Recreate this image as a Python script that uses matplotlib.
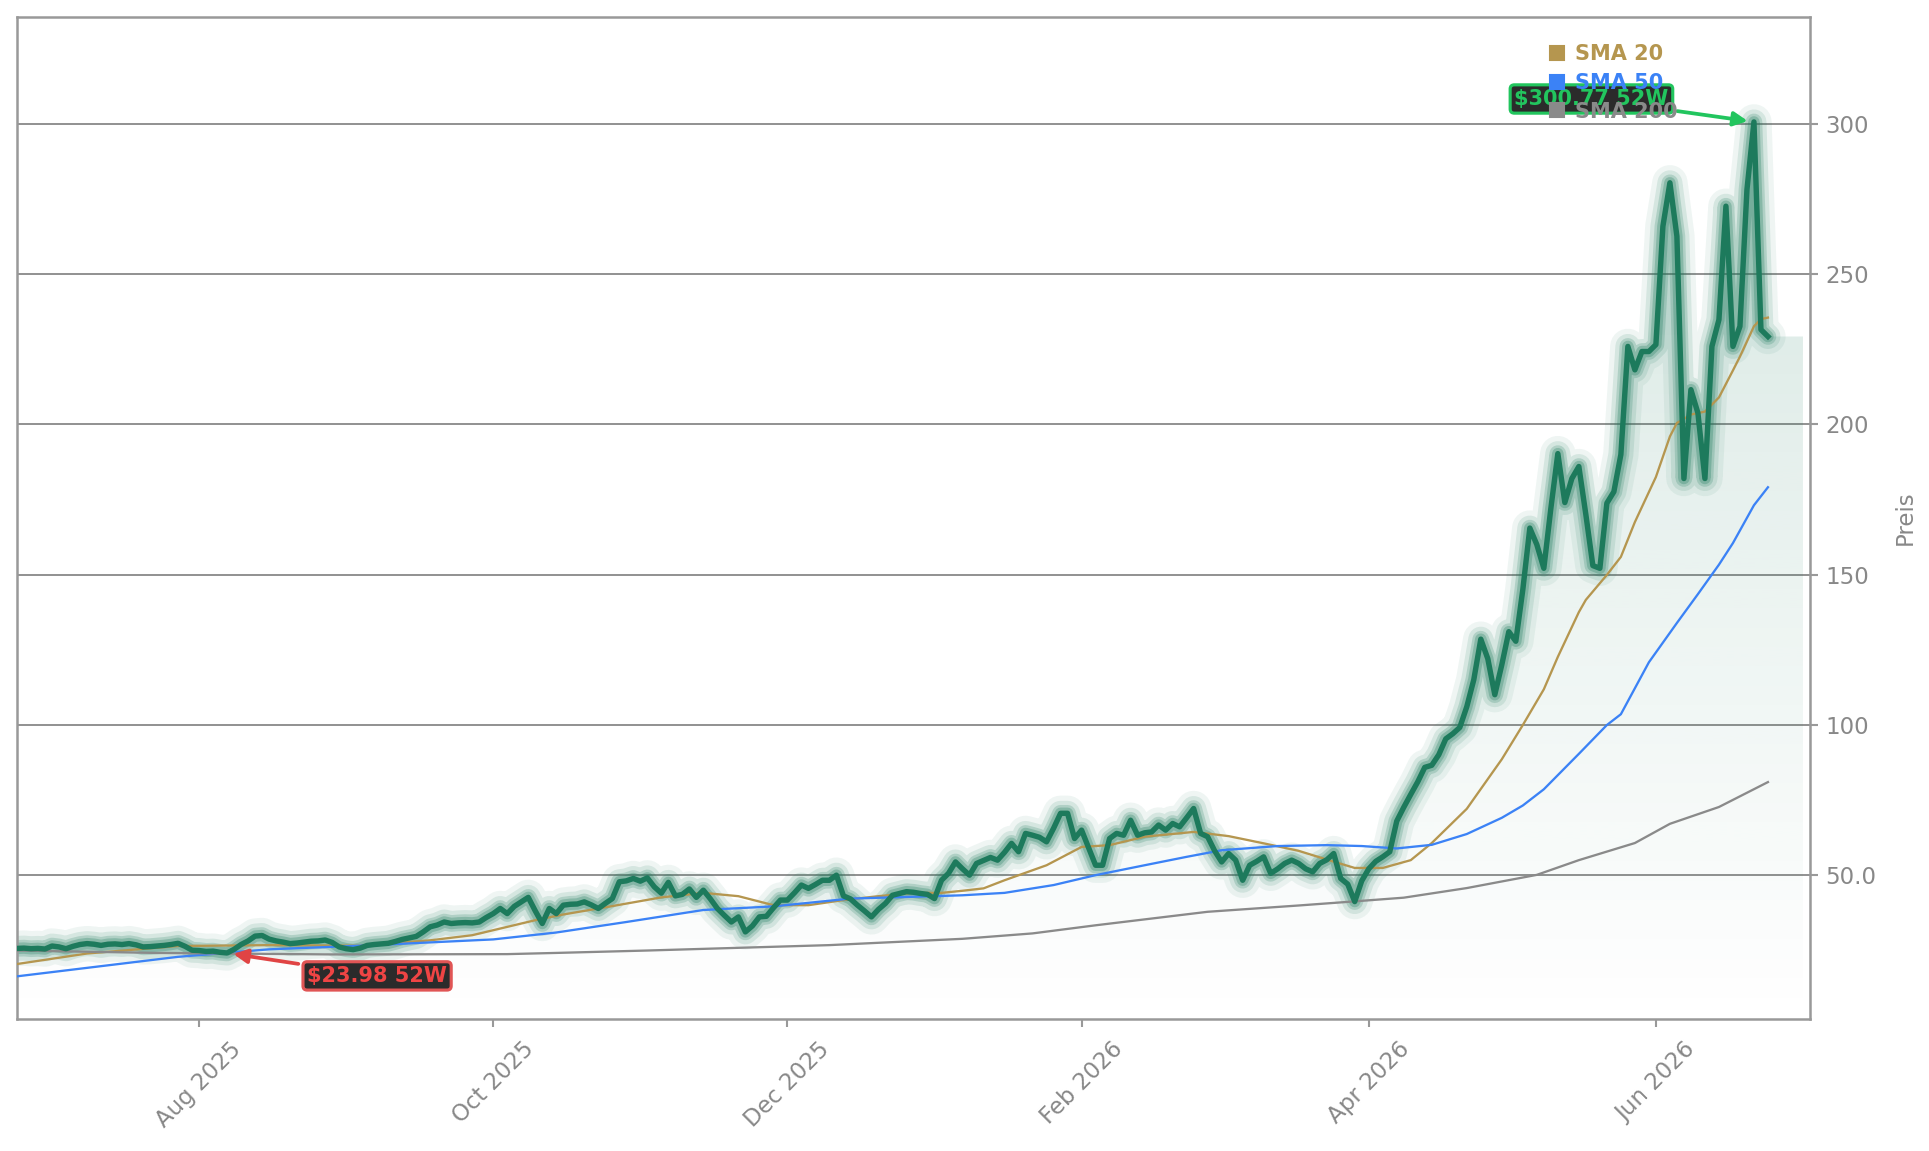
import matplotlib
matplotlib.use("Agg")
import matplotlib.pyplot as plt
from matplotlib.lines import Line2D
from matplotlib.patches import Polygon
import numpy as np
import pandas as pd

# Handelstage (US-Börse), 25.06.2025 bis 24.06.2026
holidays = ["2025-07-04", "2025-09-01", "2025-11-27", "2025-12-25", "2026-01-01",
            "2026-01-19", "2026-02-16", "2026-04-03", "2026-05-25", "2026-06-19"]
dates = pd.date_range("2025-06-25", "2026-06-24",
                      freq=pd.offsets.CustomBusinessDay(holidays=holidays))

# Schlusskurse
price = [
    25.5, 25.6, 25.4, 25.5, 25.3, 26.3, 26.0, 25.4, 26.2, 26.8,
    27.1, 26.9, 26.5, 26.9, 27.0, 26.8, 27.1, 26.7, 26.0, 26.1,
    26.3, 26.5, 26.8, 27.2, 26.2, 24.9, 24.8, 24.5, 24.6, 24.2,
    23.98, 25.2, 26.8, 28.0, 29.6, 29.8, 28.6, 28.0, 27.6, 27.1,
    27.3, 27.6, 27.9, 28.0, 28.3, 27.5, 26.0, 25.4, 25.1, 25.6,
    26.5, 26.8, 27.0, 27.2, 27.8, 28.5, 29.0, 29.5, 31.0, 32.7,
    33.3, 34.3, 33.8, 34.0, 34.1, 34.0, 34.3, 35.8, 37.1, 38.8,
    37.1, 39.5, 41.0, 42.5, 38.0, 33.8, 38.8, 37.1, 39.9, 40.2,
    40.3, 41.0, 40.0, 38.8, 40.5, 42.1, 47.7, 48.0, 48.8, 47.9,
    49.0, 46.0, 43.9, 47.5, 43.0, 43.5, 45.3, 42.5, 44.9, 42.0,
    38.8, 36.5, 34.3, 36.0, 31.0, 33.0, 36.0, 36.2, 39.0, 41.6,
    41.6, 44.0, 46.6, 45.5, 46.8, 48.2, 48.2, 49.9, 43.0, 42.0,
    39.9, 38.0, 36.0, 38.5, 40.5, 43.2, 43.8, 44.4, 44.2, 43.8,
    43.5, 42.1, 48.2, 50.5, 54.3, 52.0, 49.9, 53.8, 54.8, 55.8,
    54.9, 57.5, 60.5, 57.7, 63.8, 63.2, 62.5, 61.0, 65.5, 70.5,
    70.5, 62.1, 64.9, 59.0, 53.2, 53.2, 62.1, 63.8, 63.2, 68.2,
    63.2, 64.0, 64.3, 66.6, 64.9, 67.1, 66.0, 69.0, 72.1, 63.8,
    62.7, 58.0, 54.3, 57.1, 54.9, 48.2, 53.2, 54.5, 56.0, 50.5,
    52.0, 53.8, 54.9, 53.8, 52.0, 51.0, 53.8, 55.0, 57.1, 48.8,
    46.9, 41.1, 48.0, 52.0, 54.5, 56.0, 57.7, 67.9, 72.5, 76.8,
    81.0, 85.8, 86.5, 90.0, 95.3, 97.0, 99.1, 106.0, 115.0, 128.5,
    122.0, 110.0, 120.0, 131.0, 127.8, 145.0, 165.5, 160.0, 152.1, 172.0,
    190.3, 174.0, 182.0, 186.0, 170.0, 153.0, 152.1, 173.8, 177.6, 190.0,
    226.0, 218.2, 224.3, 224.3, 226.6, 266.0, 280.5, 262.7, 182.0, 211.6,
    203.8, 182.0, 226.0, 234.9, 272.7, 226.0, 232.7, 278.2, 300.77, 231.6,
    229.3,
]

sma20_idx = [0, 10, 23, 36, 49, 59, 65, 74, 78, 85, 92, 98, 103, 108, 113, 118, 123,
             128, 132, 135, 138, 141, 147, 152, 156, 161, 168, 173, 178, 183, 187, 191,
             195, 199, 202, 207, 212, 215, 218, 220, 223, 224, 227, 229, 231, 234, 236,
             237, 239, 241, 243, 245, 246, 248, 249, 250]
sma20 = [20.3, 23.8, 26.3, 26.6, 26.4, 28.2, 29.9, 34.9, 36.8, 39.6, 42.5, 44.0, 42.9,
         39.9, 39.9, 41.6, 42.9, 44.0, 44.0, 44.7, 45.5, 48.2, 53.2, 59.3, 59.9, 62.7,
         64.3, 62.9, 60.5, 58.0, 55.1, 52.3, 52.3, 54.9, 60.6, 72.0, 88.5, 99.9, 111.8,
         122.6, 137.5, 141.6, 149.9, 155.9, 167.5, 182.5, 196.0, 200.5, 203.3, 204.3,
         209.0, 218.0, 222.6, 232.7, 235.1, 235.6]

sma50_idx = [0, 23, 36, 49, 68, 77, 87, 98, 108, 119, 131, 135, 141, 148, 154, 161, 167,
             172, 180, 187, 192, 197, 202, 207, 212, 215, 218, 223, 227, 229, 233, 237,
             240, 243, 245, 248, 250]
sma50 = [16.2, 22.7, 25.2, 26.4, 28.5, 30.8, 34.3, 38.3, 39.5, 42.1, 42.9, 43.2, 44.0,
         46.6, 49.9, 53.2, 56.0, 58.2, 59.6, 59.9, 59.6, 58.8, 60.0, 63.6, 69.0, 73.1,
         78.5, 90.3, 99.9, 103.5, 120.8, 133.9, 143.5, 153.3, 160.5, 173.1, 179.1]

sma200_idx = [0, 20, 45, 70, 77, 90, 116, 135, 145, 154, 170, 183, 190, 198, 207, 217,
              223, 231, 236, 243, 250]
sma200 = [24.8, 24.0, 23.5, 23.6, 24.0, 24.8, 26.6, 28.7, 30.5, 33.2, 37.7, 39.8, 41.0,
          42.4, 45.6, 50.0, 54.9, 60.6, 67.0, 72.6, 80.9]

legend_labels = ["SMA 20", "SMA 50", "SMA 200"]
sma_colors = ["#b5964f", "#3b82f6", "#8a8a8a"]

GREEN = "#1d7a5c"
GRAY = "#999999"

x = np.arange(len(price))
p = np.array(price)
y_lo, y_hi = 2.0, 335.7

fig, ax = plt.subplots(figsize=(1929 / 150, 1151 / 150), dpi=150)
fig.subplots_adjust(left=0.0088, right=0.9383, top=0.9852, bottom=0.1147)

# Verlaufsfüllung unter dem Kurs
grad = np.linspace(0, 1, 256).reshape(-1, 1)
rgba = np.zeros((256, 1, 4))
rgba[..., :3] = matplotlib.colors.to_rgb(GREEN)
rgba[..., 3] = 0.18 * grad[..., 0:1]
im = ax.imshow(rgba, extent=[0, x[-1] + 5, y_lo, p.max()], origin="lower",
               aspect="auto", zorder=1, interpolation="bilinear")
verts = [(0, y_lo)] + list(zip(x, p)) + [(x[-1] + 5, p[-1]), (x[-1] + 5, y_lo)]
poly = Polygon(verts, closed=True, facecolor="none", edgecolor="none")
ax.add_patch(poly)
im.set_clip_path(poly)

# Glow-Effekt
for lw, a in [(17.0, 0.07), (12.0, 0.12), (8.0, 0.2), (5.5, 0.28)]:
    ax.plot(x, p, color=GREEN, lw=lw, alpha=a, solid_joinstyle="round",
            solid_capstyle="round", zorder=2)

ax.plot(sma20_idx, sma20, color=sma_colors[0], lw=1.1, zorder=3)
ax.plot(sma50_idx, sma50, color=sma_colors[1], lw=1.1, zorder=3)
ax.plot(sma200_idx, sma200, color=sma_colors[2], lw=1.1, zorder=3)

ax.plot(x, p, color=GREEN, lw=2.6, solid_joinstyle="round", zorder=4)

# 52W Hoch / Tief
hi_i, lo_i = int(np.argmax(p)), int(np.argmin(p))
ax.annotate(f"${p[hi_i]:.2f} 52W", xy=(hi_i, p[hi_i]), xytext=(-78, 11),
            textcoords="offset points", ha="center", va="center", fontsize=10,
            fontweight="bold", color="#22c55e", zorder=5,
            bbox=dict(boxstyle="round,pad=0.2", fc="#2b2b2b", ec="#22c55e", lw=1.5),
            arrowprops=dict(arrowstyle="-|>", color="#22c55e", lw=1.8,
                            mutation_scale=14, shrinkB=3))
ax.annotate(f"${p[lo_i]:.2f} 52W", xy=(lo_i, p[lo_i]), xytext=(72, -11),
            textcoords="offset points", ha="center", va="center", fontsize=10,
            fontweight="bold", color="#ef4444", zorder=5,
            bbox=dict(boxstyle="round,pad=0.2", fc="#2b2b2b", ec="#e05555", lw=1.5),
            arrowprops=dict(arrowstyle="-|>", color="#e04444", lw=1.8,
                            mutation_scale=14, shrinkB=3))

# Legende
handles = [Line2D([], [], marker="s", ls="none", color=c, markersize=7) for c in sma_colors]
leg = ax.legend(handles, legend_labels, loc="upper left", bbox_to_anchor=(0.8545, 0.973),
                frameon=False, labelcolor=sma_colors, prop={"weight": "bold", "size": 10},
                handlelength=0.8, handletextpad=0.45, labelspacing=0.42,
                borderaxespad=0, borderpad=0)
leg.set_zorder(10)

# Achsen
ax.set_xlim(0, 256)
ax.set_ylim(y_lo, y_hi)

tick_pos, tick_lab = [], []
for i in range(1, len(dates)):
    d = dates[i]
    if d.month != dates[i - 1].month and d.month % 2 == 0:
        tick_pos.append(i)
        tick_lab.append(d.strftime("%b %Y"))
ax.set_xticks(tick_pos)
ax.set_xticklabels(tick_lab, rotation=45)

ax.set_yticks([50, 100, 150, 200, 250, 300])
ax.yaxis.set_major_formatter(matplotlib.ticker.FuncFormatter(
    lambda v, _: f"{v:.1f}" if v < 100 else f"{v:.0f}"))
ax.yaxis.tick_right()
ax.yaxis.set_label_position("right")
ax.set_ylabel("Preis", color="#888888", fontsize=11, labelpad=8)

ax.tick_params(axis="both", colors=GRAY, labelcolor="#888888", labelsize=11,
               length=4, width=1)
ax.tick_params(axis="x", pad=5)
for s in ax.spines.values():
    s.set_color(GRAY)
    s.set_linewidth(1.2)

ax.grid(axis="y", color="#8c8c8c", lw=0.9)
ax.set_axisbelow(True)

fig.savefig("out.png", dpi=150)
